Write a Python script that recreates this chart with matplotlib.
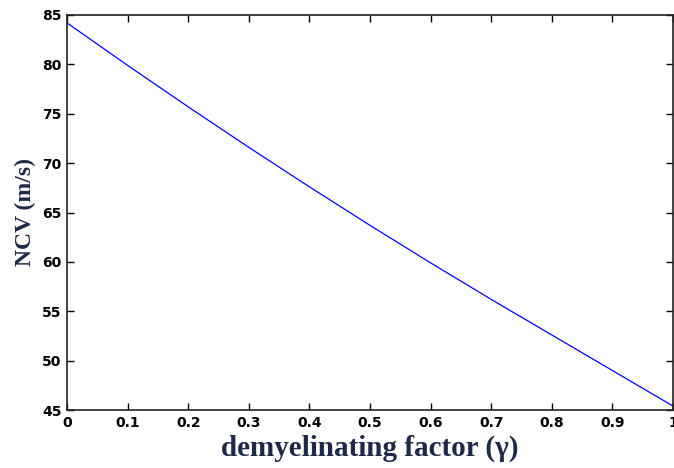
import numpy as np
import matplotlib
matplotlib.use("Agg")
import matplotlib.pyplot as plt

# demyelinating factor vs conduction velocity
gamma = [0.0, 0.1, 0.2, 0.3, 0.4, 0.5, 0.6, 0.7, 0.8, 0.9, 1.0]
ncv = [84.2, 79.9, 75.7, 71.6, 67.6, 63.7, 59.9, 56.2, 52.6, 49.0, 45.4]

xticks = [0, 0.1, 0.2, 0.3, 0.4, 0.5, 0.6, 0.7, 0.8, 0.9, 1]
xtick_labels = ["0", "0.1", "0.2", "0.3", "0.4", "0.5", "0.6", "0.7", "0.8", "0.9", "1"]
yticks = [45, 50, 55, 60, 65, 70, 75, 80, 85]

label_color = "#1e2847"

fig = plt.figure(figsize=(6.74, 4.68), dpi=100)
ax = fig.add_axes([67 / 674, 58 / 468, 606 / 674, 395 / 468])

ax.plot(gamma, ncv, color="#0000ff", lw=0.9)

ax.set_xlim(0, 1)
ax.set_ylim(45, 85)
ax.set_xticks(xticks)
ax.set_xticklabels(xtick_labels)
ax.set_yticks(yticks)

ax.tick_params(direction="in", length=5, width=1, top=True, right=True, pad=4,
               labelsize=10, colors="black")
for lab in ax.get_xticklabels() + ax.get_yticklabels():
    lab.set_fontfamily("DejaVu Sans")
    lab.set_fontweight("bold")

for s in ax.spines.values():
    s.set_linewidth(1.2)
    s.set_color("#222222")

ax.set_xlabel("demyelinating factor (γ)", fontsize=21, fontweight="bold",
              family="Liberation Serif", color=label_color, labelpad=4)
ax.set_ylabel("NCV (m/s)", fontsize=17, fontweight="bold",
              family="Liberation Serif", color=label_color, labelpad=4)

fig.savefig("out.png", dpi=100)
